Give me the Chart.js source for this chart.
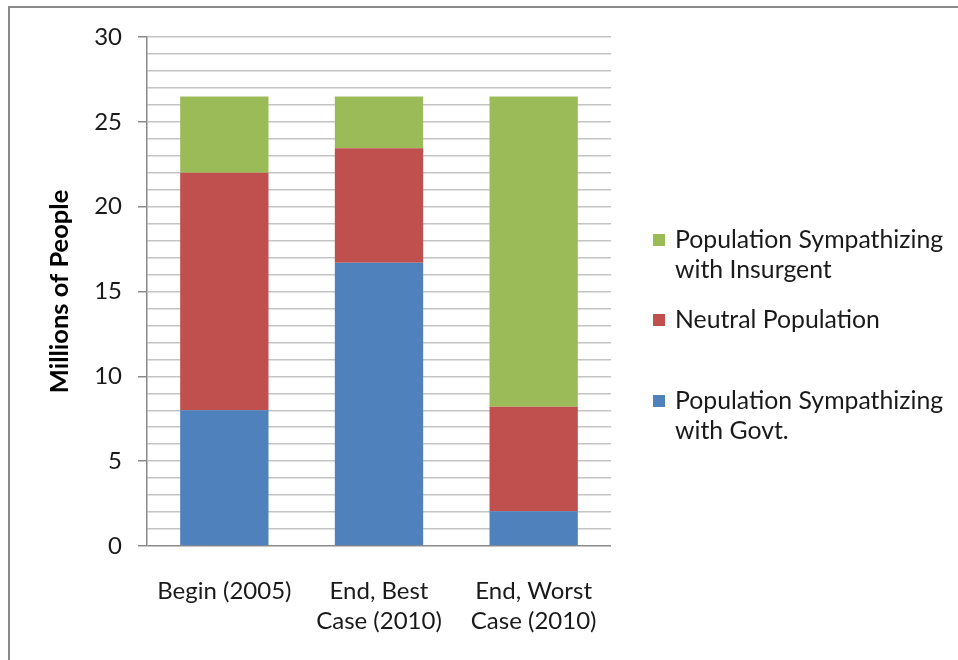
<!DOCTYPE html>
<html>
<head>
<meta charset="utf-8">
<script src="https://cdn.jsdelivr.net/npm/chart.js@4.4.1/dist/chart.umd.min.js"></script>
<style>
  html, body { margin: 0; padding: 0; background: #ffffff; }
  #wrap { width: 958px; height: 660px; }
</style>
</head>
<body>
<div id="wrap"><canvas id="chart" width="958" height="660"></canvas></div>
<script>
// Scenario categories (multi-line labels)
const categories = [
  ['Begin (2005)'],
  ['End, Best', 'Case (2010)'],
  ['End, Worst', 'Case (2010)']
];

// Population split, millions of people
const govtValues = [8.0, 16.7, 2.05];
const neutralValues = [14.0, 6.75, 6.15];
const insurgentValues = [4.5, 3.05, 18.3];

const seriesNames = ['Population Sympathizing with Govt.', 'Neutral Population', 'Population Sympathizing with Insurgent'];
const legendLines = [
  ['Population Sympathizing', 'with Insurgent'],
  ['Neutral Population'],
  ['Population Sympathizing', 'with Govt.']
];

const axisTitle = 'Millions of People';
const yMin = 0, yMax = 30, yStep = 1, yLabelEvery = 5;

const FONT = 'Lato, "Noto Sans", sans-serif';
const TEXT = '#1a1a1a';

// Frame around the whole chart
const framePlugin = {
  id: 'frame',
  beforeDraw(chart) {
    const c = chart.ctx;
    c.save();
    c.fillStyle = '#ffffff';
    c.fillRect(0, 0, chart.width, chart.height);
    c.strokeStyle = '#8a8a8a';
    c.lineWidth = 2;
    c.strokeRect(9, 7, chart.width + 20, chart.height + 20);
    c.restore();
  }
};

// Legend to the right of the plot, green series listed first
const sideLegend = {
  id: 'sideLegend',
  afterDraw(chart, args, opts) {
    const c = chart.ctx;
    const ds = chart.data.datasets;
    c.save();
    c.font = opts.size + 'px ' + FONT;
    c.textBaseline = 'middle';
    c.textAlign = 'left';
    opts.order.forEach((di, i) => {
      const y0 = opts.rows[i];
      c.fillStyle = ds[di].backgroundColor;
      c.fillRect(opts.boxX, y0 - opts.box / 2, opts.box, opts.box);
      c.fillStyle = TEXT;
      legendLines[i].forEach((line, k) => {
        c.fillText(line, opts.textX, y0 + k * opts.lineGap);
      });
    });
    c.restore();
  }
};

new Chart(document.getElementById('chart'), {
  type: 'bar',
  data: {
    labels: categories,
    datasets: [
      { label: seriesNames[0], data: govtValues, backgroundColor: '#4F81BD' },
      { label: seriesNames[1], data: neutralValues, backgroundColor: '#C0504D' },
      { label: seriesNames[2], data: insurgentValues, backgroundColor: '#9BBB59' }
    ]
  },
  options: {
    responsive: false,
    animation: false,
    layout: { padding: { left: 0, right: 347, top: 37, bottom: 0 } },
    datasets: { bar: { categoryPercentage: 1.0, barPercentage: 0.571 } },
    plugins: {
      legend: { display: false },
      tooltip: { enabled: false },
      sideLegend: {
        order: [2, 1, 0],
        rows: [240, 320, 401],
        lineGap: 30,
        box: 12,
        boxX: 653,
        textX: 675,
        size: 24.8
      }
    },
    scales: {
      x: {
        stacked: true,
        grid: { display: false },
        border: { display: false },
        ticks: {
          color: TEXT,
          padding: 22,
          font: { family: FONT, size: 24, lineHeight: 1.25 },
          maxRotation: 0
        },
        afterFit(s) { s.height = 114; }
      },
      y: {
        stacked: true,
        min: yMin,
        max: yMax,
        grid: {
          color: (ctx) => ctx.tick && ctx.tick.value === 0 ? '#8a8a8a' : '#c4c4c4',
          lineWidth: 1.5,
          tickColor: (ctx) => ctx.tick && ctx.tick.value % yLabelEvery === 0 ? '#8a8a8a' : 'rgba(0,0,0,0)',
          tickLength: 9,
          drawTicks: true
        },
        border: { display: true, color: '#8a8a8a', width: 1.5 },
        ticks: {
          stepSize: yStep,
          autoSkip: false,
          padding: 16,
          color: TEXT,
          font: { family: FONT, size: 24 },
          callback: (v) => v % yLabelEvery === 0 ? String(v) : ''
        },
        title: {
          display: true,
          text: axisTitle,
          color: '#000000',
          font: { family: FONT, size: 25.5, weight: 'bold' },
          padding: { top: 44.7, bottom: 0 }
        },
        afterFit(s) { s.width = 147; }
      }
    }
  },
  plugins: [framePlugin, sideLegend]
});
</script>
</body>
</html>
